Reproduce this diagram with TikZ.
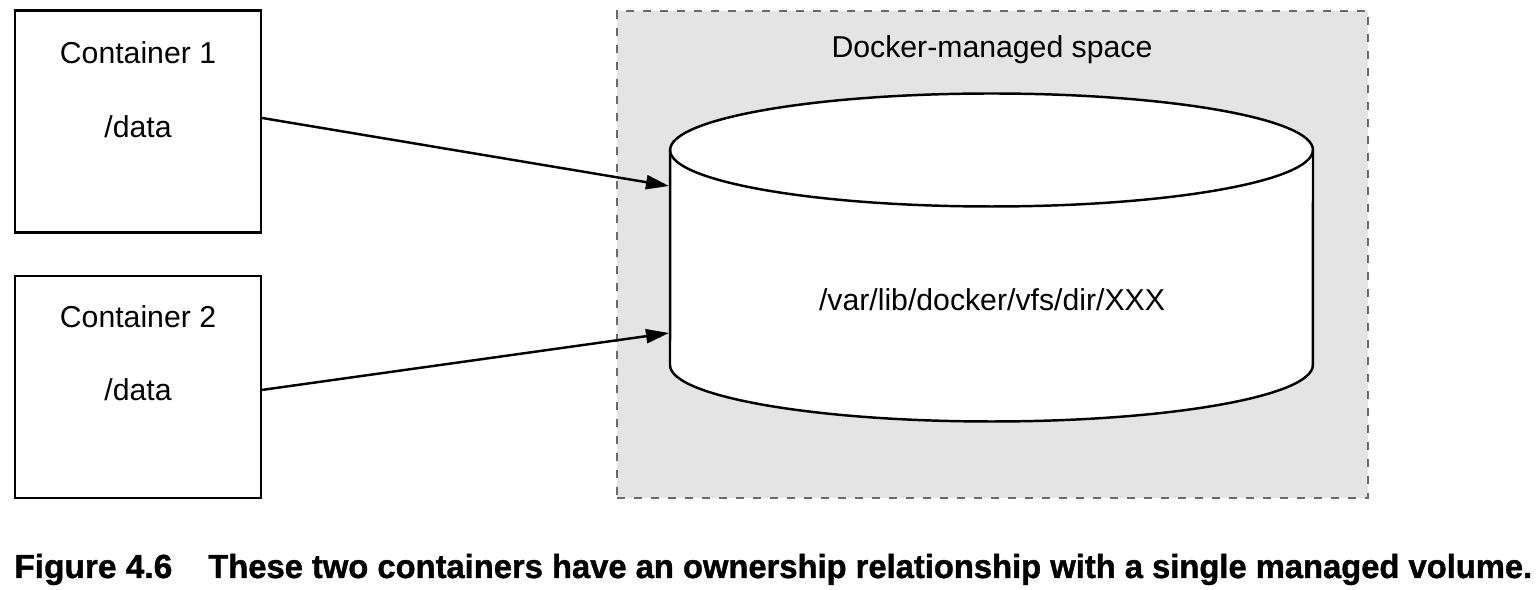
\documentclass[tikz,border=0pt]{standalone}
\usepackage{fontspec}
\setmainfont{Liberation Sans}
\newfontfamily\capfont[FakeBold=1.2]{Liberation Sans Bold}
\usetikzlibrary{positioning,arrows.meta}
\definecolor{spacefill}{HTML}{E4E4E4}
\definecolor{spaceline}{HTML}{6A6A6A}
\tikzset{box node/.style={draw,line width=1.4pt,minimum width=4.92cm,minimum height=4.44cm,inner sep=0pt},
  box text/.style={font=\fontsize{17.2}{20}\selectfont,inner sep=0pt,anchor=base},
  space node/.style={draw=spaceline,fill=spacefill,line width=1.4pt,dash pattern=on 0.16cm off 0.18cm,
    minimum width=15.02cm,minimum height=9.74cm,inner sep=0pt,anchor=north west},
  disk/.style={draw,fill=white,line width=1.4pt},
  link/.style={line width=1.4pt,-{Triangle[length=0.46cm,width=0.28cm]}},
  cap text/.style={font=\fontsize{19}{22}\capfont,inner sep=0pt,anchor=base west}}

\begin{document}
\begin{tikzpicture}[x=0.02cm,y=-0.02cm]
            \useasboundingbox (0,0) rectangle (1536,590);

            % containers
            \node[box node] (c1) at (138,121.5) {};
            \node[box node] (c2) [below = 0.82cm of c1] {};
            \node[box text] (t1) at (138,64) {Container 1};
            \node[box text] (p1) at (138,138) {/data};
            \node[box text] (t2) at (138,328) {Container 2};
            \node[box text] (p2) at (138,401) {/data};

            % managed space
            \node[space node] (space) at (616,10) {};
            \node[box text] (st) at (992,58) {Docker-managed space};
            \path[disk] (670,365) arc[start angle=180,end angle=360,x radius=6.43cm,y radius=1.13cm]
              -- (1313,150) arc[start angle=0,end angle=180,x radius=6.43cm,y radius=1.13cm] -- cycle;
            \draw[line width=1.4pt] (670,150) arc[start angle=180,end angle=360,x radius=6.43cm,y radius=1.13cm];
            \node[box text] (vol) at (992,311) {/var/lib/docker/vfs/dir/XXX};
            \coordinate (in1) at (669,186);
            \coordinate (in2) at (669,333);

            \draw[link] ([yshift=0.07cm]c1.east) -- (in1);
            \draw[link] ([yshift=-0.06cm]c2.east) -- (in2);

            % caption
            \node[cap text] (fig) at (14,578) {\resizebox{3.16cm}{\height}{Figure 4.6}};
            \node[cap text] (cap) at (208,578) {\resizebox{26.48cm}{\height}{These two containers have an ownership relationship with a single managed volume.}};
        \end{tikzpicture}
\end{document}
